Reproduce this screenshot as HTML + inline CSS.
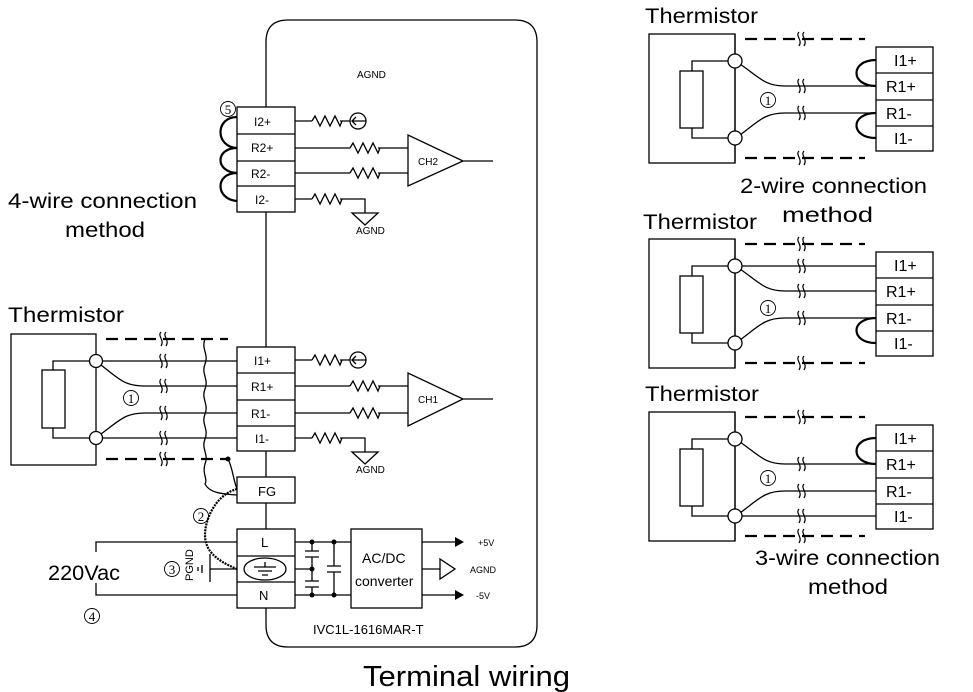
<!DOCTYPE html>
<html><head><style>body{margin:0;background:#fff}svg{display:block}text{font-family:"Liberation Sans",sans-serif;fill:#000}</style></head><body>
<svg width="973" height="692" viewBox="0 0 973 692" xmlns="http://www.w3.org/2000/svg">
<defs>
<path id="bk" d="M-4,-7 c-4,4 4,8 0,14 M1,-7 c-4,4 4,8 0,14" fill="none" stroke="#000" stroke-width="1.2"/>
<path id="zz" d="M0,0 l3,-5 l5,10 l5,-10 l5,10 l5,-10 l5,10 l2,-5" fill="none" stroke="#000" stroke-width="1.3"/>
<g id="panel" fill="none" stroke="#000" stroke-width="1.3">
<rect x="649" y="34" width="86" height="129"/>
<rect x="680" y="71" width="23" height="57"/>
<path d="M692,71 V61 H728 M692,128 V138 H728 M735,34 V163"/>
<path d="M745,39 H865 M745,158 H865" stroke-width="2.2" stroke-dasharray="12,7"/>
<rect x="876" y="47" width="57" height="104"/>
<path d="M876,73 H933 M876,100 H933 M876,126 H933"/>
</g>
</defs>
<g fill="none" stroke="#000" stroke-width="1.3">
<path d="M266,625 V42 Q266,20 288,20 H515 Q537,20 537,42 V625 Q537,647 515,647 H288 Q266,647 266,625"/>
<rect x="237" y="107" width="58" height="105" fill="#fff"/>
<path d="M237,134 H295 M237,161 H295 M237,186 H295"/>
<path d="M237,117 C215,117 215,147 237,148 C215,148 215,172 237,173 C215,173 215,199 237,201" stroke-width="2.2"/>
<path d="M295,121 H312 M340,121 H350"/><use href="#zz" x="312" y="121"/>
<circle cx="358" cy="121" r="8"/><path d="M366,121 H352 M356,117 L352,121 L356,125"/>
<path d="M295,148 H350 M378,148 H408"/><use href="#zz" x="350" y="148"/>
<path d="M295,173 H350 M378,173 H408"/><use href="#zz" x="350" y="173"/>
<path d="M408,135 V186 L463,161 Z M463,161 H493"/>
<path d="M295,199 H312 M340,199 H365 V213"/><use href="#zz" x="312" y="199"/>
<path d="M352,213 H378 L365,225 Z"/>
<rect x="237" y="347" width="58" height="104" fill="#fff"/>
<path d="M237,373 H295 M237,400 H295 M237,426 H295"/>
<path d="M295,360 H312 M340,360 H350"/><use href="#zz" x="312" y="360"/>
<circle cx="358" cy="360" r="8"/><path d="M366,360 H352 M356,356 L352,360 L356,364"/>
<path d="M295,386 H350 M378,386 H408"/><use href="#zz" x="350" y="386"/>
<path d="M295,413 H350 M378,413 H408"/><use href="#zz" x="350" y="413"/>
<path d="M408,373 V426 L463,399 Z M463,399 H493"/>
<path d="M295,438 H312 M340,438 H365 V452"/><use href="#zz" x="312" y="438"/>
<path d="M352,452 H378 L365,464 Z"/>
<rect x="11" y="334" width="85" height="131"/>
<rect x="42" y="370" width="23" height="58"/>
<path d="M53,370 V361 H89 M53,428 V438 H89"/>
<circle cx="96" cy="361" r="6.5" fill="#fff"/><circle cx="96" cy="438" r="6.5" fill="#fff"/>
<path d="M103,361 H237 M101,365 C120,380 125,386 145,386 H237 M101,434 C120,420 125,413 145,413 H237 M103,438 H237"/>
<path d="M106,339 H228 M106,459 H228" stroke-width="2.2" stroke-dasharray="12,7"/>
<path d="M205,339 c-4,10 4,15 0,25 c-4,10 4,15 0,25 c-4,10 4,15 0,25 c-4,10 4,15 0,25 c-4,10 4,15 0,25 c-3,10 3,15 0,20 c5,10 20,10 32,11"/>
<path d="M228,459 c5,10 5,20 9,30"/>
<path d="M237,489 C215,495 205,520 205,535 C205,550 215,560 237,569" stroke-width="2.2" stroke-dasharray="2,1"/>
<rect x="237" y="477" width="58" height="26" fill="#fff"/>
<rect x="237" y="529" width="58" height="79" fill="#fff"/>
<path d="M237,556 H295 M237,582 H295"/>
<ellipse cx="265" cy="569" rx="21" ry="11"/>
<path d="M265,562 V567 M254,567 H276 M258,571 H272 M262,575 H268"/>
<path d="M96,552 V542 H237 M96,583 V595 H237"/>
<path d="M210,554 V582 M210,569 H237 M202,565 V573 M198,567 V571"/>
<path d="M295,542 H351 M295,595 H351 M295,569 H312"/>
<path d="M312,542 V551 M305,551 H319 M305,557 H319 M312,557 V581 M305,581 H319 M305,587 H319 M312,587 V595"/>
<path d="M334,542 V566 M327,566 H341 M327,572 H341 M334,572 V595"/>
<rect x="351" y="529" width="71" height="79"/>
<path d="M422,542 H455 M422,595 H455 M422,569 H440 M440,559 V579 L455,569 Z"/>
</g>
<path d="M455,537 L464,542 L455,547 Z M455,590 L464,595 L455,600 Z" fill="#000"/>
<g fill="#000"><circle cx="228" cy="459" r="2.5"/><circle cx="312" cy="542" r="2.5"/><circle cx="334" cy="542" r="2.5"/><circle cx="312" cy="569" r="2.5"/><circle cx="312" cy="595" r="2.5"/><circle cx="334" cy="595" r="2.5"/></g>
<g>
<use href="#bk" x="165" y="339"/><use href="#bk" x="165" y="361"/><use href="#bk" x="165" y="386"/><use href="#bk" x="165" y="413"/><use href="#bk" x="165" y="438"/><use href="#bk" x="165" y="459"/>
</g>
<g>
<use href="#panel"/>
<use href="#panel" y="205"/>
<use href="#panel" y="378"/>
</g>
<g fill="none" stroke="#000" stroke-width="1.3">
<path d="M740,64 C760,78 765,86 785,86 H876 M740,135 C760,120 765,113 785,113 H876"/>
<path d="M876,60 C850,60 850,86 876,86 M876,113 C850,113 850,138 876,138" stroke-width="2.2"/>
<path d="M742,266 H876 M740,269 C760,283 765,291 785,291 H876 M740,340 C760,325 765,318 785,318 H876"/>
<path d="M876,318 C850,318 850,343 876,343" stroke-width="2.2"/>
<path d="M740,442 C760,456 765,464 785,464 H876 M740,513 C760,498 765,491 785,491 H876 M742,516 H876"/>
<path d="M876,438 C850,438 850,464 876,464" stroke-width="2.2"/>
</g>
<g fill="#fff" stroke="#000" stroke-width="1.3">
<circle cx="735" cy="61" r="7"/><circle cx="735" cy="138" r="7"/>
<circle cx="735" cy="266" r="7"/><circle cx="735" cy="343" r="7"/>
<circle cx="735" cy="439" r="7"/><circle cx="735" cy="516" r="7"/>
</g>
<g>
<use href="#bk" x="803" y="39"/><use href="#bk" x="803" y="86"/><use href="#bk" x="803" y="113"/><use href="#bk" x="803" y="158"/>
<use href="#bk" x="803" y="244"/><use href="#bk" x="803" y="266"/><use href="#bk" x="803" y="291"/><use href="#bk" x="803" y="318"/><use href="#bk" x="803" y="363"/>
<use href="#bk" x="803" y="417"/><use href="#bk" x="803" y="464"/><use href="#bk" x="803" y="491"/><use href="#bk" x="803" y="516"/><use href="#bk" x="803" y="536"/>
</g>
<g font-size="10">
<text x="357" y="78">AGND</text><text x="356" y="234">AGND</text><text x="356" y="473">AGND</text>
<text x="418" y="165">CH2</text><text x="418" y="403">CH1</text>
<text x="478" y="546" font-size="9">+5V</text><text x="470" y="573" font-size="9">AGND</text><text x="476" y="599" font-size="9">-5V</text>
</g>
<g font-size="12">
<text x="254" y="126">I2+</text><text x="251" y="152">R2+</text><text x="251" y="178">R2-</text><text x="255" y="204">I2-</text>
<text x="254" y="365">I1+</text><text x="251" y="391">R1+</text><text x="251" y="418">R1-</text><text x="255" y="443">I1-</text>
<text x="258" y="496" font-size="13">FG</text><text x="261" y="547" font-size="13">L</text><text x="259" y="600" font-size="13">N</text>
<text x="362" y="563" font-size="14">AC/DC</text><text x="355" y="586" font-size="14">converter</text>
<text x="313" y="634" font-size="13">IVC1L-1616MAR-T</text>
</g>
<text x="193" y="581" font-size="11" transform="rotate(-90 193 581)">PGND</text>
<g fill="none" stroke="#000" stroke-width="0.9">
<circle cx="228" cy="109" r="7.5"/><circle cx="131" cy="398" r="7.5"/><circle cx="201" cy="516" r="7.5"/><circle cx="172" cy="569" r="7.5"/><circle cx="92" cy="616" r="7.5"/>
<circle cx="768" cy="100" r="7.5"/><circle cx="768" cy="308" r="7.5"/><circle cx="768" cy="478" r="7.5"/>
</g>
<g font-size="13" font-family="Liberation Serif" text-anchor="middle">
<text x="228" y="114" style="font-family:'Liberation Serif',serif">5</text><text x="131" y="403" style="font-family:'Liberation Serif',serif">1</text><text x="201" y="521" style="font-family:'Liberation Serif',serif">2</text><text x="172" y="574" style="font-family:'Liberation Serif',serif">3</text><text x="92" y="621" style="font-family:'Liberation Serif',serif">4</text>
<text x="768" y="105" style="font-family:'Liberation Serif',serif">1</text><text x="768" y="313" style="font-family:'Liberation Serif',serif">1</text><text x="768" y="483" style="font-family:'Liberation Serif',serif">1</text>
</g>
<g font-size="16">
<text x="894" y="66">I1+</text><text x="886" y="92">R1+</text><text x="886" y="119">R1-</text><text x="894" y="144">I1-</text>
<text x="894" y="271">I1+</text><text x="886" y="297">R1+</text><text x="886" y="324">R1-</text><text x="894" y="349">I1-</text>
<text x="894" y="444">I1+</text><text x="886" y="470">R1+</text><text x="886" y="497">R1-</text><text x="894" y="522">I1-</text>
</g>
<g font-size="21">
<text x="8" y="208" textLength="189" lengthAdjust="spacingAndGlyphs">4-wire connection</text>
<text x="65" y="237" textLength="80" lengthAdjust="spacingAndGlyphs">method</text>
<text x="8" y="322" textLength="116" lengthAdjust="spacingAndGlyphs">Thermistor</text>
<text x="48" y="580" textLength="72" lengthAdjust="spacingAndGlyphs">220Vac</text>
<text x="645" y="23" textLength="113" lengthAdjust="spacingAndGlyphs">Thermistor</text>
<text x="643" y="229" textLength="114" lengthAdjust="spacingAndGlyphs">Thermistor</text>
<text x="645" y="401" textLength="114" lengthAdjust="spacingAndGlyphs">Thermistor</text>
<text x="740" y="193" textLength="187" lengthAdjust="spacingAndGlyphs">2-wire connection</text>
<text x="782" y="222" textLength="91" lengthAdjust="spacingAndGlyphs">method</text>
<text x="755" y="565" textLength="185" lengthAdjust="spacingAndGlyphs">3-wire connection</text>
<text x="808" y="594" textLength="80" lengthAdjust="spacingAndGlyphs">method</text>
</g>
<text x="363" y="686" font-size="29" textLength="207" lengthAdjust="spacingAndGlyphs">Terminal wiring</text>
</svg>
</body></html>
